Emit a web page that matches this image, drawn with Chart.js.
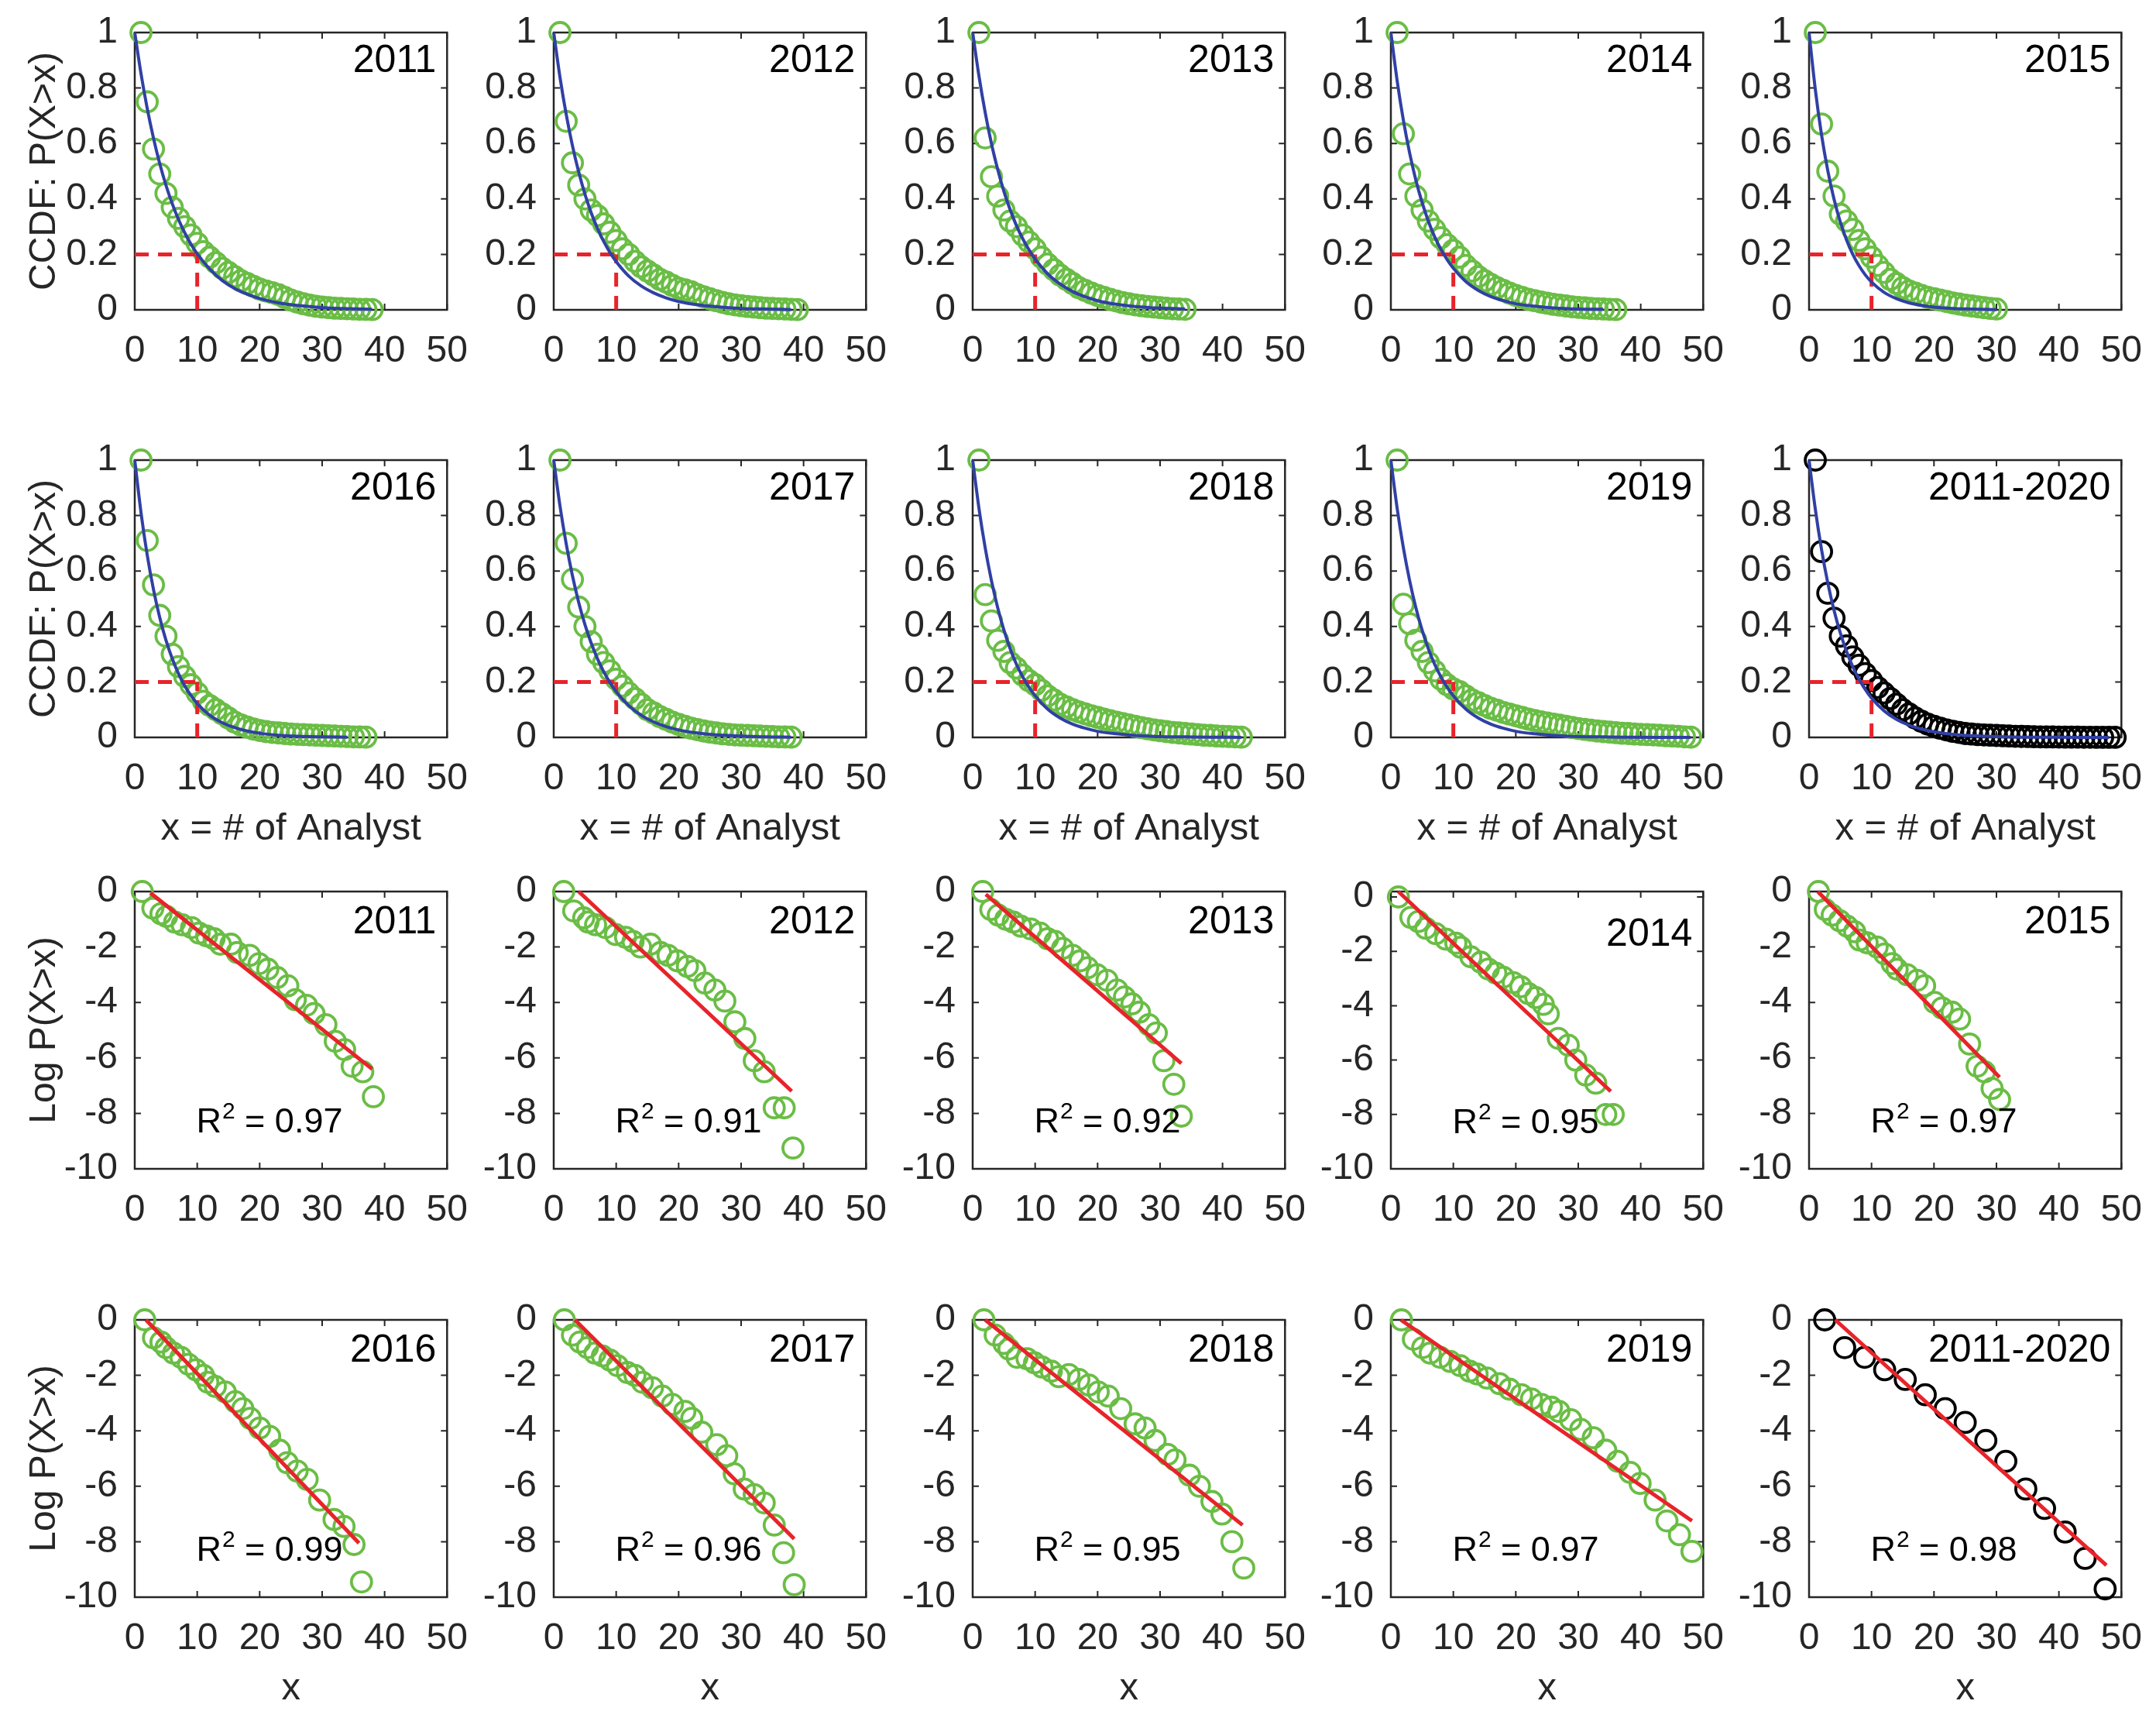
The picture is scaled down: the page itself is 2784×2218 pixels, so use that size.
<!DOCTYPE html>
<html>
<head>
<meta charset="utf-8">
<script src="https://cdn.jsdelivr.net/npm/chart.js@4.4.1/dist/chart.umd.min.js"></script>
<style>
  body { margin: 0; background: #fff; }
  #wrap { position: relative; width: 2784px; height: 2218px; background: #fff; overflow: hidden; }
  #wrap canvas { position: absolute; }
</style>
</head>
<body>
<div id="wrap"></div>
<script>
// ---- data ----
const years    = ['2011', '2012', '2013', '2014', '2015', '2016', '2017', '2018', '2019', '2011-2020'];
const r2Values = ['0.97', '0.91', '0.92', '0.95', '0.97', '0.99', '0.96', '0.95', '0.97', '0.98'];

const xTicks    = [0, 10, 20, 30, 40, 50];
const ccdfTicks = [0, 0.2, 0.4, 0.6, 0.8, 1];
const logTicks  = [-10, -8, -6, -4, -2, 0];

// x = # of analysts for the CCDF circles
const analysts = [1, 2, 3, 4, 5, 6, 7, 8, 9, 10, 11, 12, 13, 14, 15, 16, 17, 18, 19, 20,
  21, 22, 23, 24, 25, 26, 27, 28, 29, 30, 31, 32, 33, 34, 35, 36, 37, 38, 39, 40,
  41, 42, 43, 44, 45, 46, 47, 48, 49];

const ccdf2011 = [1.0, 0.75, 0.58, 0.49, 0.42, 0.37, 0.33, 0.30, 0.27, 0.24, 0.21, 0.19, 0.17, 0.15, 0.135,
  0.12, 0.105, 0.095, 0.085, 0.075, 0.068, 0.062, 0.055, 0.045, 0.035, 0.028, 0.022, 0.017, 0.013, 0.010,
  0.008, 0.006, 0.005, 0.004, 0.003, 0.002, 0.0015, 0.001];
const ccdf2012 = [1.0, 0.68, 0.53, 0.45, 0.40, 0.36, 0.34, 0.31, 0.28, 0.25, 0.22, 0.20, 0.175, 0.155, 0.14,
  0.125, 0.11, 0.10, 0.088, 0.078, 0.072, 0.065, 0.055, 0.047, 0.04, 0.033, 0.027, 0.022, 0.018, 0.015,
  0.012, 0.01, 0.008, 0.006, 0.005, 0.004, 0.003, 0.002, 0.001];
const ccdf2013 = [1.0, 0.62, 0.48, 0.41, 0.36, 0.32, 0.30, 0.27, 0.245, 0.22, 0.19, 0.165, 0.145, 0.125, 0.11,
  0.095, 0.08, 0.07, 0.06, 0.052, 0.045, 0.038, 0.032, 0.026, 0.022, 0.018, 0.015, 0.012, 0.01, 0.008,
  0.006, 0.004, 0.003, 0.002];
const ccdf2014 = [1.0, 0.635, 0.49, 0.41, 0.36, 0.32, 0.29, 0.26, 0.235, 0.215, 0.19, 0.16, 0.14, 0.12, 0.105,
  0.092, 0.08, 0.07, 0.06, 0.052, 0.045, 0.038, 0.033, 0.028, 0.024, 0.02, 0.017, 0.014, 0.011, 0.009,
  0.007, 0.005, 0.004, 0.003, 0.002, 0.001];
const ccdf2015 = [1.0, 0.67, 0.50, 0.41, 0.345, 0.32, 0.29, 0.25, 0.22, 0.19, 0.16, 0.135, 0.11, 0.095, 0.08,
  0.068, 0.06, 0.052, 0.045, 0.04, 0.035, 0.03, 0.025, 0.021, 0.017, 0.014, 0.011, 0.008, 0.005, 0.003];
const ccdf2016 = [1.0, 0.71, 0.55, 0.44, 0.365, 0.30, 0.255, 0.22, 0.19, 0.16, 0.13, 0.115, 0.10, 0.085, 0.07,
  0.055, 0.045, 0.037, 0.03, 0.025, 0.021, 0.018, 0.016, 0.014, 0.012, 0.011, 0.01, 0.009, 0.008, 0.007,
  0.006, 0.005, 0.004, 0.003, 0.002, 0.0015, 0.001];
const ccdf2017 = [1.0, 0.70, 0.57, 0.47, 0.40, 0.345, 0.30, 0.27, 0.24, 0.21, 0.185, 0.16, 0.14, 0.12, 0.10,
  0.088, 0.075, 0.065, 0.055, 0.047, 0.04, 0.033, 0.028, 0.023, 0.019, 0.016, 0.013, 0.011, 0.009, 0.008,
  0.007, 0.006, 0.005, 0.004, 0.003, 0.002, 0.0015, 0.001];
const ccdf2018 = [1.0, 0.515, 0.42, 0.35, 0.31, 0.27, 0.25, 0.225, 0.205, 0.19, 0.17, 0.15, 0.135, 0.12, 0.11,
  0.10, 0.092, 0.085, 0.078, 0.072, 0.066, 0.06, 0.055, 0.05, 0.045, 0.04, 0.035, 0.031, 0.027, 0.024,
  0.021, 0.018, 0.016, 0.014, 0.012, 0.01, 0.008, 0.007, 0.005, 0.004, 0.003, 0.002, 0.001];
const ccdf2019 = [1.0, 0.48, 0.41, 0.35, 0.31, 0.27, 0.24, 0.21, 0.19, 0.175, 0.165, 0.15, 0.135, 0.125, 0.115,
  0.105, 0.098, 0.09, 0.084, 0.078, 0.072, 0.066, 0.061, 0.056, 0.052, 0.048, 0.044, 0.04, 0.036, 0.032,
  0.029, 0.026, 0.023, 0.021, 0.019, 0.017, 0.015, 0.014, 0.012, 0.011, 0.01, 0.009, 0.008, 0.006, 0.005,
  0.004, 0.002, 0.001];
const ccdfAll = [1.0, 0.67, 0.52, 0.43, 0.365, 0.33, 0.29, 0.26, 0.23, 0.205, 0.18, 0.16, 0.14, 0.12, 0.10,
  0.085, 0.07, 0.058, 0.048, 0.04, 0.033, 0.027, 0.022, 0.018, 0.014, 0.012, 0.01, 0.009, 0.008, 0.007,
  0.006, 0.005, 0.004, 0.0035, 0.003, 0.0025, 0.002, 0.0018, 0.0015, 0.0013, 0.0011, 0.001, 0.0008, 0.0006,
  0.0005, 0.0004, 0.0003, 0.0002, 0.0001];

// blue exponential fit, sampled at fitX
const fitX    = [0, 1, 2, 3, 4, 5, 6, 7, 8, 9, 10, 12, 14, 16, 18, 20, 23, 26, 30, 34, 38, 43, 48];
const fit2011 = [1, .852, .726, .619, .527, .449, .383, .326, .278, .237, .202, .147, .106, .077, .056, .041, .025, .016, .008, .004, .002];
const fit2012 = [1, .839, .705, .592, .497, .417, .350, .294, .247, .207, .174, .122, .086, .061, .043, .030, .018, .011, .005, .003, .001];
const fit2013 = [1, .844, .712, .600, .507, .427, .361, .304, .257, .217, .183, .130, .093, .066, .047, .033, .020, .012, .006, .003];
const fit2014 = [1, .827, .684, .566, .468, .387, .320, .264, .219, .181, .150, .102, .070, .048, .033, .022, .013, .007, .003, .002];
const fit2015 = [1, .795, .631, .502, .399, .317, .252, .200, .159, .126, .100, .063, .040, .025, .016, .010, .005, .003, .001];
const fit2016 = [1, .811, .657, .533, .432, .350, .284, .230, .186, .151, .122, .080, .053, .035, .023, .015, .008, .004, .002, .001];
const fit2017 = [1, .835, .698, .583, .487, .407, .340, .284, .237, .198, .165, .115, .080, .056, .039, .027, .016, .009, .005, .002, .001];
const fit2018 = [1, .827, .684, .566, .468, .387, .320, .264, .219, .181, .150, .102, .070, .048, .033, .022, .013, .007, .003, .002, .001, .0003];
const fit2019 = [1, .827, .684, .566, .468, .387, .320, .264, .219, .181, .150, .102, .070, .048, .033, .022, .013, .007, .003, .002, .001, .0003, .0001];
const fitAll  = [1, .823, .677, .557, .458, .377, .310, .255, .210, .173, .142, .096, .065, .044, .030, .020, .011, .006, .003, .001, .0006, .0002, .0001];

// red dashed guide: P = 0.2 at x = 10
const guideX = [0, 10];
const guideY = [0, 0.2];

// log P(X>x) points as [x, y]
const log2011 = [[1.2,0],[2.9,-0.6],[4.2,-0.8],[5.1,-0.9],[6.4,-1.1],[7.6,-1.2],[9.1,-1.3],[10.3,-1.5],[11.5,-1.6],
  [12.7,-1.7],[13.7,-1.9],[15.4,-1.9],[16.4,-2.2],[18.4,-2.3],[19.9,-2.6],[21.3,-2.8],[22.8,-3.1],[24.5,-3.4],
  [25.7,-3.9],[27.5,-4.1],[28.7,-4.4],[30.6,-4.8],[32.1,-5.4],[33.6,-5.7],[34.8,-6.3],[36.5,-6.5],[38.2,-7.4]];
const log2012 = [[1.6,0],[3.2,-0.7],[4.8,-0.95],[5.5,-1.1],[6.7,-1.2],[8.3,-1.3],[9.9,-1.55],[11.5,-1.65],[12.7,-1.8],
  [13.9,-2.0],[15.5,-1.9],[17.1,-2.2],[18.3,-2.3],[19.8,-2.5],[21.4,-2.7],[22.6,-2.85],[24.2,-3.3],[25.8,-3.55],
  [27.4,-3.95],[29,-4.7],[30.6,-5.3],[32.1,-6.1],[33.7,-6.5],[35.3,-7.8],[36.9,-7.8],[38.3,-9.25]];
const log2013 = [[1.6,0],[2.9,-0.65],[4.1,-0.85],[5.3,-1.0],[6.5,-1.1],[7.7,-1.25],[9.3,-1.35],[10.8,-1.5],[12,-1.7],
  [13.2,-1.8],[14.4,-2.05],[16,-2.3],[17.2,-2.5],[18.4,-2.75],[19.9,-3.0],[21.5,-3.2],[23.1,-3.55],[24.3,-3.8],
  [25.5,-4.05],[26.7,-4.35],[28.2,-4.8],[29.4,-5.1],[30.6,-6.1],[32.2,-6.95],[33.4,-8.1]];
const log2014 = [[1.2,0],[3.2,-0.75],[4.4,-0.9],[5.6,-1.15],[7.2,-1.35],[8.8,-1.55],[10.4,-1.7],[11.2,-1.85],
  [12.8,-2.2],[14.4,-2.4],[15.6,-2.65],[16.8,-2.8],[18,-2.95],[19.6,-3.15],[20.8,-3.3],[22,-3.55],[23.2,-3.7],
  [24.4,-3.95],[25.2,-4.3],[26.8,-5.2],[28.4,-5.45],[29.6,-6.0],[31.2,-6.55],[32.8,-6.85],[34.4,-8.0],[35.6,-8.0]];
const log2015 = [[1.5,0],[2.6,-0.65],[3.7,-0.85],[4.9,-1.05],[6.1,-1.25],[7.3,-1.45],[8.1,-1.75],[9.3,-1.85],
  [10.9,-2.0],[12.1,-2.25],[13.3,-2.6],[14.1,-2.8],[15.7,-3.0],[17.3,-3.2],[18.5,-3.4],[20.1,-4.0],[21.3,-4.2],
  [22.9,-4.35],[24.1,-4.6],[25.7,-5.5],[26.9,-6.3],[28.1,-6.5],[29.3,-7.1],[30.5,-7.5]];
const log2016 = [[1.6,0],[3,-0.65],[4.2,-0.8],[5,-1.0],[6.2,-1.2],[7.4,-1.35],[8.6,-1.6],[9.8,-1.8],[11,-2.0],
  [11.7,-2.25],[12.9,-2.4],[14.5,-2.6],[16.1,-2.95],[17.3,-3.2],[18.5,-3.55],[20,-3.9],[21.6,-4.2],[23.2,-4.7],
  [24.4,-5.15],[26,-5.45],[27.6,-5.75],[29.6,-6.5],[31.9,-7.2],[33.5,-7.45],[35.1,-8.1],[36.3,-9.45]];
const log2017 = [[1.7,0],[3,-0.55],[4.2,-0.8],[5.4,-1.0],[6.6,-1.2],[7.8,-1.3],[9,-1.45],[10.2,-1.65],[11.8,-1.9],
  [13,-2.0],[14.2,-2.25],[15.8,-2.45],[17.4,-2.75],[19,-3.05],[21,-3.3],[22.1,-3.55],[23.7,-4.05],[26.1,-4.5],
  [27.7,-4.9],[28.9,-5.55],[30.5,-6.1],[32.1,-6.3],[33.7,-6.6],[35.3,-7.4],[36.8,-8.4],[38.5,-9.55]];
const log2018 = [[1.8,0],[3.6,-0.55],[5,-0.85],[5.8,-1.05],[7.1,-1.35],[8.7,-1.4],[9.9,-1.55],[11.1,-1.7],[12.6,-1.85],
  [13.8,-2.05],[15.4,-1.97],[17,-2.15],[18.6,-2.35],[20.1,-2.6],[21.7,-2.75],[23.7,-3.2],[26,-3.75],[27.6,-3.9],
  [29.2,-4.35],[31.2,-4.85],[32.4,-5.05],[34.7,-5.6],[36.3,-6.0],[38.3,-6.55],[39.9,-7.0],[41.5,-8.0],[43.4,-8.95]];
const log2019 = [[1.7,0],[3.6,-0.7],[5.1,-1.0],[6.3,-1.2],[7.9,-1.35],[9.5,-1.5],[11.1,-1.65],[12.6,-1.85],[13.8,-1.95],
  [15.4,-2.1],[17.4,-2.3],[19,-2.5],[20.9,-2.7],[22.5,-2.85],[24.1,-3.05],[25.7,-3.15],[26.9,-3.3],[28.8,-3.6],
  [30.4,-3.95],[32.4,-4.25],[34.4,-4.7],[36.3,-5.1],[38.3,-5.5],[39.9,-5.9],[42.3,-6.5],[44.2,-7.25],[46.2,-7.75],[48.2,-8.35]];
const logAll = [[2.5,0],[5.7,-1.0],[8.9,-1.35],[12.1,-1.8],[15.4,-2.15],[18.6,-2.7],[21.8,-3.2],[25,-3.7],[28.3,-4.35],
  [31.5,-5.1],[34.7,-6.1],[37.7,-6.8],[41,-7.65],[44.2,-8.6],[47.4,-9.7]];

// red linear fit end points [x, y]
const logFit2011 = [[2.5,-0.05],[38,-6.4]];
const logFit2012 = [[4,0],[38.1,-7.2]];
const logFit2013 = [[2.1,-0.1],[33.4,-6.2]];
const logFit2014 = [[1.2,0.2],[35.2,-7.15]];
const logFit2015 = [[1.4,0],[30.5,-6.7]];
const logFit2016 = [[1.8,0],[35.9,-8.05]];
const logFit2017 = [[3.4,0],[38.5,-7.9]];
const logFit2018 = [[2,0],[43.2,-7.4]];
const logFit2019 = [[1.6,0],[48.2,-7.25]];
const logFitAll  = [[4.2,0],[47.6,-8.85]];

// top of the log y axis (2014 runs slightly above 0)
const logTop = [0, 0, 0, 0.2, 0, 0, 0, 0, 0, 0];

const ccdfSeries = [ccdf2011, ccdf2012, ccdf2013, ccdf2014, ccdf2015, ccdf2016, ccdf2017, ccdf2018, ccdf2019, ccdfAll];
const ccdfFits   = [fit2011, fit2012, fit2013, fit2014, fit2015, fit2016, fit2017, fit2018, fit2019, fitAll];
const logSeries  = [log2011, log2012, log2013, log2014, log2015, log2016, log2017, log2018, log2019, logAll];
const logFits    = [logFit2011, logFit2012, logFit2013, logFit2014, logFit2015, logFit2016, logFit2017, logFit2018, logFit2019, logFitAll];

// ---- layout / style ----
const colLeft = [174, 715, 1256, 1796, 2336];
const rowTop  = [42, 594, 1151, 1704];
const PW = 407, PH = 358;
const PAD_L = 170, PAD_T = 56, PAD_R = 40, PAD_B = 150;

const FONT = '"Liberation Sans", Arial, sans-serif';
const axisColor = '#262626';
const green = '#6abd45';
const blue = '#3040a4';
const red = '#e8232a';

const panelDecor = {
  id: 'panelDecor',
  beforeDatasetsDraw(chart, args, o) {
    const { ctx, chartArea: a, scales: { x, y } } = chart;
    ctx.save();
    ctx.strokeStyle = axisColor;
    ctx.lineWidth = 2;
    const tl = 8;
    ctx.beginPath();
    x.ticks.forEach(t => {
      const px = x.getPixelForValue(t.value);
      ctx.moveTo(px, a.bottom); ctx.lineTo(px, a.bottom - tl);
      ctx.moveTo(px, a.top); ctx.lineTo(px, a.top + tl);
    });
    y.ticks.forEach(t => {
      const py = y.getPixelForValue(t.value);
      ctx.moveTo(a.left, py); ctx.lineTo(a.left + tl, py);
      ctx.moveTo(a.right, py); ctx.lineTo(a.right - tl, py);
    });
    ctx.stroke();
    ctx.lineWidth = 2.5;
    ctx.strokeRect(a.left, a.top, a.width, a.height);
    ctx.restore();
  },
  afterDraw(chart, args, o) {
    const { ctx, chartArea: a, scales: { x, y } } = chart;
    ctx.save();
    ctx.fillStyle = '#000';
    ctx.font = '50px ' + FONT;
    ctx.textAlign = 'right';
    ctx.textBaseline = 'alphabetic';
    ctx.fillText(o.year, a.right - 14, a.top + o.yearDy);

    ctx.fillStyle = axisColor;
    if (o.yTitle) {
      ctx.save();
      ctx.translate(a.left - 116, a.top + a.height / 2);
      ctx.rotate(-Math.PI / 2);
      ctx.font = '48px ' + FONT;
      ctx.textAlign = 'center';
      ctx.textBaseline = 'middle';
      ctx.fillText(o.yTitle, 0, 0);
      ctx.restore();
    }
    if (o.xTitle) {
      ctx.font = '49px ' + FONT;
      ctx.textAlign = 'center';
      ctx.textBaseline = 'middle';
      ctx.fillText(o.xTitle, a.left + a.width / 2, a.bottom + 118);
    }
    if (o.r2) {
      ctx.fillStyle = '#000';
      const big = '45px ' + FONT, small = '30px ' + FONT;
      ctx.font = big;
      const wR = ctx.measureText('R').width;
      const tail = ' = ' + o.r2;
      const wT = ctx.measureText(tail).width;
      ctx.font = small;
      const w2 = ctx.measureText('2').width;
      const total = wR + w2 + wT;
      const cx = x.getPixelForValue(21.5) - total / 2;
      const by = y.getPixelForValue(-8.68);
      ctx.textAlign = 'left';
      ctx.textBaseline = 'alphabetic';
      ctx.font = big;
      ctx.fillText('R', cx, by);
      ctx.font = small;
      ctx.fillText('2', cx + wR + 1, by - 18);
      ctx.font = big;
      ctx.fillText(tail, cx + wR + w2 + 1, by);
    }
    ctx.restore();
  }
};

function tickFix(list) {
  return s => { s.ticks = list.map(v => ({ value: v })); };
}

function makePanel(row, col, cfg) {
  const canvas = document.createElement('canvas');
  const w = PAD_L + PW + PAD_R, h = PAD_T + PH + PAD_B;
  canvas.width = w; canvas.height = h;
  canvas.style.width = w + 'px'; canvas.style.height = h + 'px';
  canvas.style.left = (colLeft[col] - PAD_L) + 'px';
  canvas.style.top = (rowTop[row] - PAD_T) + 'px';
  document.getElementById('wrap').appendChild(canvas);

  new Chart(canvas, {
    type: 'scatter',
    data: { datasets: cfg.datasets },
    options: {
      responsive: false,
      animation: false,
      devicePixelRatio: 1,
      layout: { padding: { left: 0, top: PAD_T, right: PAD_R, bottom: 0 } },
      plugins: { legend: { display: false }, tooltip: { enabled: false }, panelDecor: cfg.decor },
      scales: {
        x: {
          type: 'linear', min: 0, max: 50,
          afterBuildTicks: tickFix(xTicks),
          afterFit: s => { s.height = PAD_B; },
          grid: { display: false }, border: { display: false },
          ticks: { color: axisColor, font: { family: FONT, size: 48 }, padding: 17, maxRotation: 0, autoSkip: false }
        },
        y: {
          type: 'linear', min: cfg.yMin, max: cfg.yMax,
          afterBuildTicks: tickFix(cfg.yTicks),
          afterFit: s => { s.width = PAD_L; },
          grid: { display: false }, border: { display: false },
          ticks: {
            color: axisColor, font: { family: FONT, size: 48 }, padding: 14, autoSkip: false,
            callback: v => String(Math.round(v * 10) / 10)
          }
        }
      }
    },
    plugins: [panelDecor]
  });
}

function ccdfPanel(i) {
  const row = i < 5 ? 0 : 1, col = i % 5;
  const marker = i === 9 ? '#000' : green;
  const pts = ccdfSeries[i].map((v, k) => ({ x: analysts[k], y: v }));
  const fit = ccdfFits[i].map((v, k) => ({ x: fitX[k], y: v }));
  makePanel(row, col, {
    yMin: 0, yMax: 1, yTicks: ccdfTicks,
    decor: {
      year: years[i], yearDy: 51,
      yTitle: col === 0 ? 'CCDF: P(X>x)' : null,
      xTitle: row === 1 ? 'x = # of Analyst' : null
    },
    datasets: [
      { data: fit, showLine: true, borderColor: blue, borderWidth: 4, pointRadius: 0,
        cubicInterpolationMode: 'monotone', clip: false },
      { data: [{ x: guideX[0], y: guideY[1] }, { x: guideX[1], y: guideY[1] }], showLine: true,
        borderColor: red, borderWidth: 5, borderDash: [18, 12], pointRadius: 0 },
      { data: [{ x: guideX[1], y: guideY[0] }, { x: guideX[1], y: guideY[1] }], showLine: true,
        borderColor: red, borderWidth: 5, borderDash: [18, 12], pointRadius: 0 },
      { data: pts, showLine: false, pointStyle: 'circle', pointRadius: 13, pointBorderWidth: 3.8,
        pointBorderColor: marker, pointBackgroundColor: 'rgba(0,0,0,0)', clip: false }
    ]
  });
}

function logPanel(i) {
  const row = i < 5 ? 2 : 3, col = i % 5;
  const marker = i === 9 ? '#000' : green;
  const pts = logSeries[i].map(p => ({ x: p[0], y: p[1] }));
  const fit = logFits[i].map(p => ({ x: p[0], y: p[1] }));
  makePanel(row, col, {
    yMin: -10, yMax: logTop[i], yTicks: logTicks,
    decor: {
      year: years[i], yearDy: i === 3 ? 70 : 54,
      yTitle: col === 0 ? 'Log P(X>x)' : null,
      xTitle: row === 3 ? 'x' : null,
      r2: r2Values[i]
    },
    datasets: [
      { data: fit, showLine: true, borderColor: red, borderWidth: 5, pointRadius: 0, clip: false },
      { data: pts, showLine: false, pointStyle: 'circle', pointRadius: 13, pointBorderWidth: 3.8,
        pointBorderColor: marker, pointBackgroundColor: 'rgba(0,0,0,0)', clip: false }
    ]
  });
}

for (let i = 0; i < 10; i++) {
  ccdfPanel(i);
  logPanel(i);
}
</script>
</body>
</html>
